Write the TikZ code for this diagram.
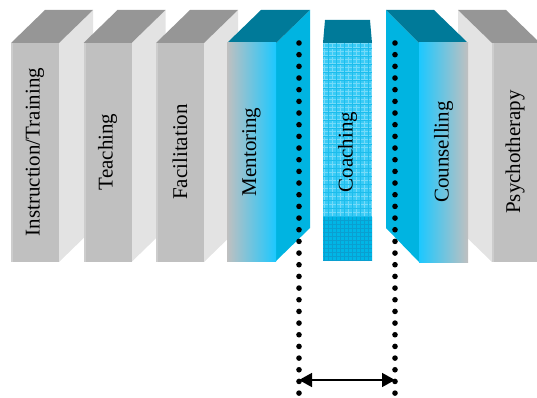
\documentclass[tikz,border=0pt]{standalone}
\usepackage{fontspec}
\setmainfont{Liberation Serif}
\usetikzlibrary{arrows.meta}

\definecolor{boxfront}{HTML}{C0C0C0}
\definecolor{boxedge}{HTML}{CDCDCD}
\definecolor{boxside}{HTML}{E3E3E3}
\definecolor{boxtop}{HTML}{969696}
\definecolor{tealtop}{HTML}{007A99}
\definecolor{cyanside}{HTML}{00B4E1}
\definecolor{cyanbright}{HTML}{1CC8FF}
\definecolor{coachlight}{HTML}{3ACBF6}
\definecolor{coachmid}{HTML}{1DBDEC}
\definecolor{coachdark}{HTML}{00B6E6}
\definecolor{coachline}{HTML}{0A9FD0}

\tikzset{
  boxlabel/.style={rotate=90, font=\fontsize{21}{24}\selectfont, inner sep=0pt},
  dotrule/.style={line width=5.6pt, line cap=round, dash pattern=on 0pt off 11.67pt},
  spanarrow/.style={line width=1.5pt,
    {Triangle[length=13pt,width=14pt]}-{Triangle[length=13pt,width=14pt]}},
}

% box whose side face is on the right: #1 = left edge of front, #2 = name, #3 = text
\newcommand\rightsidebox[3]{%
  \fill[boxside] (#1+48,43) -- (#1+82,10) -- (#1+82,229) -- (#1+48,262) -- cycle;
  \fill[boxtop] (#1,43) -- (#1+34,10) -- (#1+82,10) -- (#1+48,43) -- cycle;
  \fill[boxfront] (#1,43) rectangle (#1+48,262);
  \fill[boxedge] (#1,43) rectangle (#1+2,262);
  \node[boxlabel] (#2) at (#1+24,152) {#3};
}

\begin{document}
\begin{tikzpicture}[x=1pt,y=-1pt]
\useasboundingbox (0,0) rectangle (537,398);

% grey boxes on the left
\rightsidebox{11}{instr}{Instruction/Training}
\rightsidebox{83.5}{teach}{Teaching}
\rightsidebox{156}{facil}{Facilitation}

% Mentoring
\fill[cyanside] (276,43) -- (310,10) -- (310,228) -- (276,261) -- cycle;
\fill[tealtop] (227,43) -- (261,10) -- (310,10) -- (276,43) -- cycle;
\shade[left color=boxfront, right color=cyanbright] (227,43) rectangle (276,261);
\node[boxlabel] (mentor) at (251.5,152) {Mentoring};

% Psychotherapy (behind Counselling)
\fill[boxside] (458,10) -- (492,43) -- (492,262) -- (458,229) -- cycle;
\fill[boxtop] (458,10) -- (506,10) -- (540,43) -- (492,43) -- cycle;
\fill[boxfront] (492,43) rectangle (540,262);
\fill[boxedge] (492,43) rectangle (494,262);
\node[boxlabel] (psycho) at (515,152) {Psychotherapy};

% Counselling
\fill[cyanside] (386,10) -- (419,43) -- (419,262) -- (386,228) -- cycle;
\fill[tealtop] (386,10) -- (434,10) -- (468,43) -- (419,43) -- cycle;
\shade[left color=cyanbright, right color=boxfront] (419,43) rectangle (468,262);
\node[boxlabel] (counsel) at (443.5,152) {Counselling};

% Coaching
\fill[tealtop] (323,43) -- (325,20) -- (370,20) -- (372,43) -- cycle;
\fill[coachlight] (323,43) rectangle (372,217);
\fill[coachdark] (323,217) rectangle (372,261);
\begin{scope}
  \clip (323,43) rectangle (372,217);
  \draw[white, opacity=.3, line width=1pt, step=4pt] (323,43) grid (372,217);
  \draw[coachmid, line width=.8pt, step=8pt] (323,43) grid (372,217);
\end{scope}
\begin{scope}
  \clip (323,217) rectangle (372,261);
  \draw[coachline, line width=.8pt, step=4pt] (323,217) grid (372,261);
\end{scope}
\node[boxlabel] (coach) at (347.5,152) {Coaching};

% dotted boundaries and span arrow
\coordinate (ltop) at (299,43);
\coordinate (lbot) at (299,394);
\coordinate (rtop) at (395,43);
\coordinate (rbot) at (395,394);
\coordinate (lend) at (299,380);
\coordinate (rend) at (395,380);
\draw[dotrule] (ltop) -- (lbot);
\draw[dotrule] (rtop) -- (rbot);
\draw[spanarrow] (lend) -- (rend);
\end{tikzpicture}
\end{document}
